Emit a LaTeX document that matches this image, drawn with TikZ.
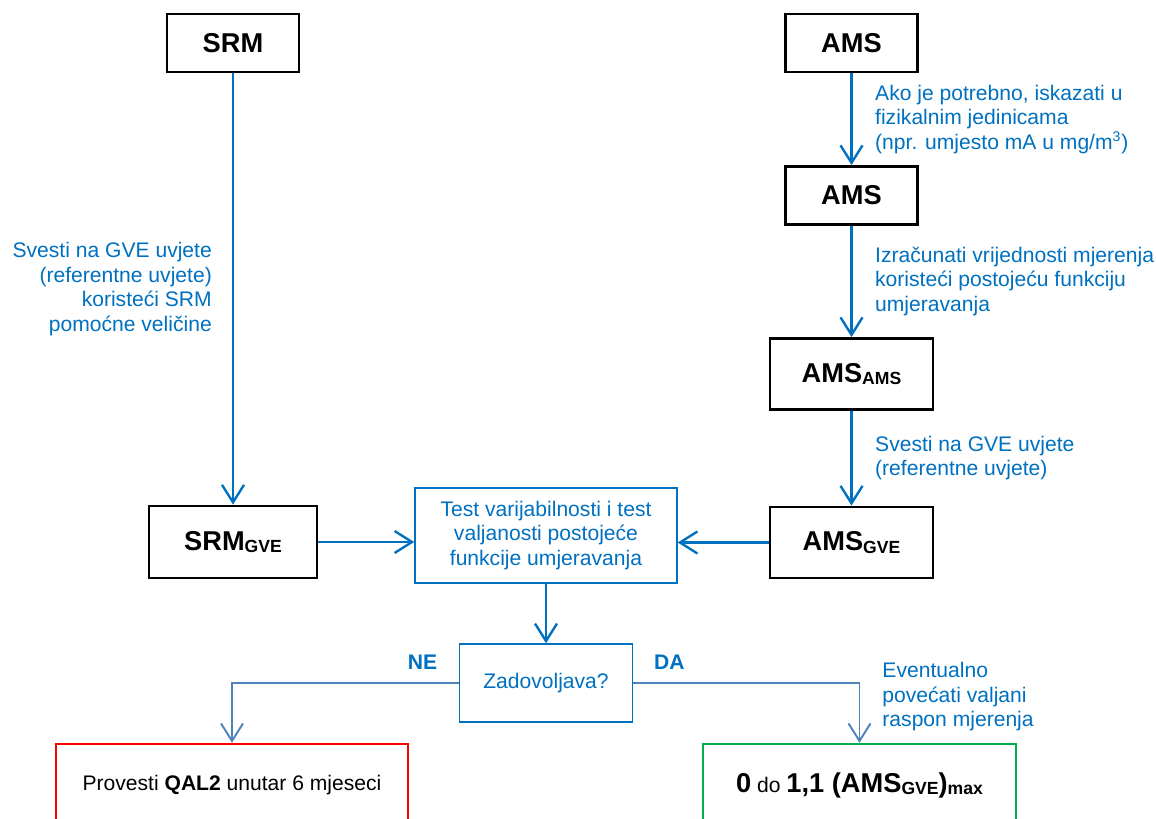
\documentclass[tikz,border=0pt]{standalone}
\usepackage{fontspec}
\setmainfont{Liberation Sans}
\usepackage{tikz}
\usetikzlibrary{arrows.meta,positioning}
\definecolor{qalblue}{RGB}{0,112,192}
\definecolor{qalsteel}{RGB}{79,129,189}
\definecolor{qalred}{RGB}{255,0,0}
\definecolor{qalgreen}{RGB}{0,176,80}
\newcommand{\lowsub}[1]{\raisebox{-1.5pt}{\fontsize{10}{12}\selectfont #1}}
\tikzstyle{arrow} = [line width=1.35pt,-{Straight Barb[length=0.35cm,width=0.44cm]},color=qalblue]
\tikzstyle{branch} = [line width=1.1pt,-{Straight Barb[length=0.35cm,width=0.44cm]},color=qalsteel]
\tikzstyle{quantity} = [rectangle, draw=black, line width=1.6pt, minimum width=2.64cm, minimum height=1.16cm, text centered, font=\fontsize{15.5}{18}\selectfont\bfseries]
\tikzstyle{check} = [rectangle, draw=qalblue, line width=0.8pt, text centered, align=center, text=qalblue, font=\fontsize{12}{13.9}\selectfont]
\tikzstyle{outcome} = [rectangle, line width=1.4pt, minimum height=1.64cm, text centered, font=\fontsize{12}{14}\selectfont]
\tikzstyle{note} = [text=qalblue, inner sep=0pt, font=\fontsize{12}{13.9}\selectfont]
\tikzstyle{answer} = [text=qalblue, inner sep=0pt, font=\fontsize{12}{14}\selectfont\bfseries]

\begin{document}
\begin{tikzpicture}
\useasboundingbox (0,0) rectangle (23.12,-16.38);
\clip (0,0) rectangle (23.12,-16.38);
% Reference and measuring system
\node (srm) [quantity] at (4.66,-0.86) {SRM};
\node (ams) [quantity, right of=srm, node distance=12.37cm] {AMS};
\node (ams2) [quantity, below of=ams, node distance=3.05cm] {AMS};
\node (amsams) [quantity, below of=ams2, node distance=3.57cm, minimum width=3.26cm, minimum height=1.42cm] {AMS\lowsub{AMS}};
\node (amsgve) [quantity, below of=amsams, node distance=3.37cm, minimum width=3.26cm, minimum height=1.42cm] {AMS\lowsub{GVE}};
\node (srmgve) [quantity, below of=srm, node distance=9.98cm, minimum width=3.36cm, minimum height=1.44cm] {SRM\lowsub{GVE}};

% Test and decision
\node (test) [check, minimum width=5.24cm, minimum height=1.9cm] at (10.92,-10.71) {Test varijabilnosti i test\\valjanosti postojeće\\funkcije umjeravanja};
\node (zad) [check, below of=test, node distance=2.95cm, minimum width=3.46cm, minimum height=1.56cm] {Zadovoljava?};
\node (fail) [outcome, draw=qalred, minimum width=7.04cm] at (4.64,-15.7) {Provesti \textbf{QAL2} unutar 6 mjeseci};
\node (pass) [outcome, draw=qalgreen, minimum width=6.26cm] at (17.19,-15.7) {{\fontsize{15.5}{18}\selectfont\bfseries 0} do {\fontsize{15.5}{18}\selectfont\bfseries 1,1 (AMS\lowsub{GVE})\lowsub{max}}};

\draw[arrow] (srm) -- node[note, left=0.4cm, align=right] {Svesti na GVE uvjete\\(referentne uvjete)\\koristeći SRM\\pomoćne veličine} (srmgve);
\draw[arrow] (ams) -- node[note, right=0.45cm, align=left] {Ako je potrebno, iskazati u\\fizikalnim jedinicama\\(npr. umjesto mA u mg/m\textsuperscript{3})} (ams2);
\draw[arrow] (ams2) -- node[note, right=0.45cm, align=left] {Izračunati vrijednosti mjerenja\\koristeći postojeću funkciju\\umjeravanja} (amsams);
\draw[arrow] (amsams) -- node[note, right=0.45cm, align=left] {Svesti na GVE uvjete\\(referentne uvjete)} (amsgve);
\draw[arrow] (srmgve.east) -- (srmgve.east -| test.west);
\draw[arrow] (amsgve.west) -- (amsgve.west -| test.east);
\draw[arrow] (test) -- (zad);
\draw[branch] (zad.west) -| node[pos=0.08, answer, above=0.25cm] {NE} (fail.north);
\draw[branch] (zad.east) -| node[pos=0.08, answer, above=0.25cm] {DA} node[pos=0.615, note, right=0.44cm, align=left] {Eventualno\\povećati valjani\\raspon mjerenja} (pass.north);
\end{tikzpicture}
\end{document}
